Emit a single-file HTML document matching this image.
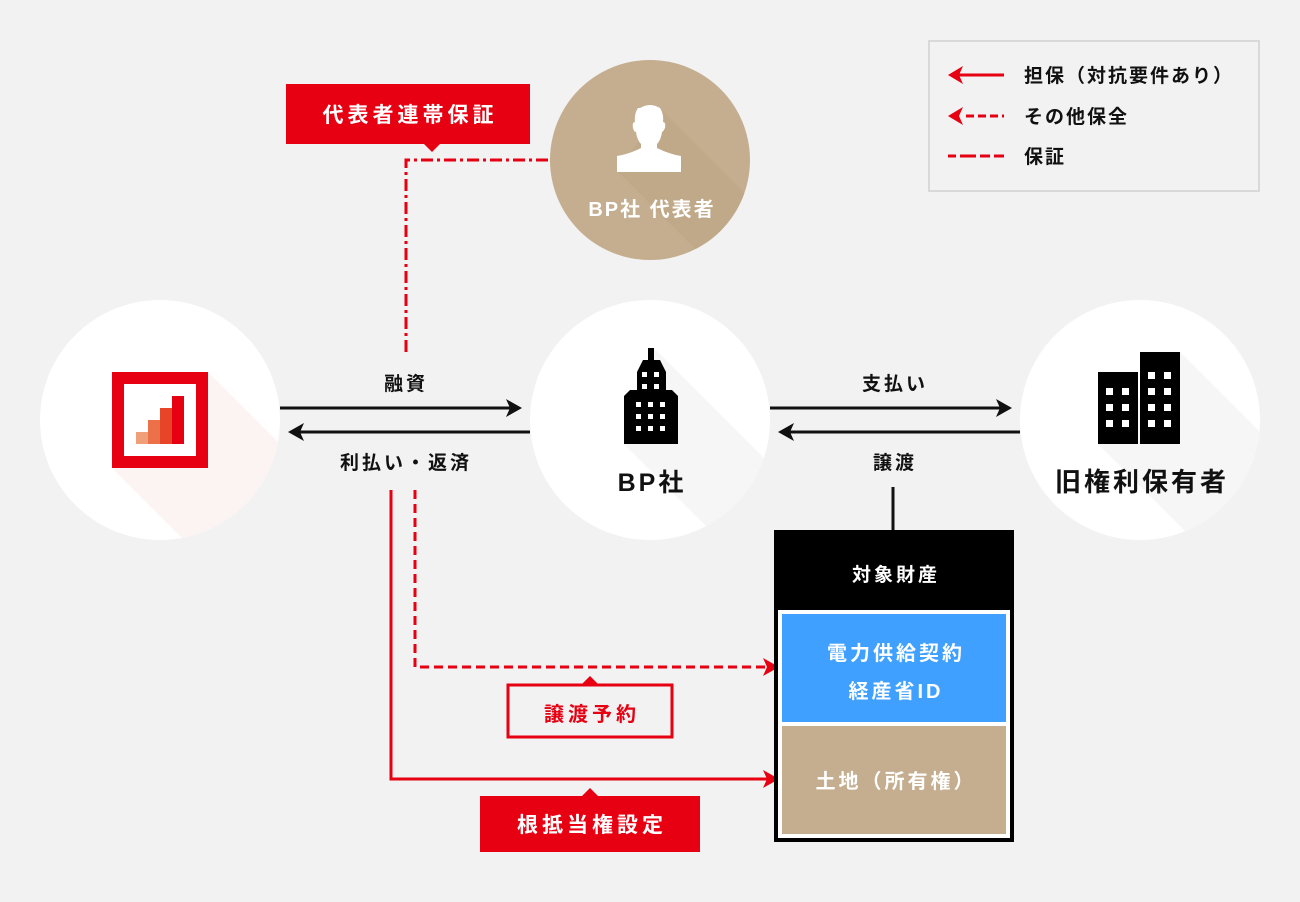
<!DOCTYPE html>
<html><head><meta charset="utf-8"><style>
html,body{margin:0;padding:0;background:#f2f2f2;}
svg{display:block;font-family:"Liberation Sans","Noto Sans CJK JP",sans-serif;font-weight:bold;}
</style></head><body>
<svg width="1300" height="902" viewBox="0 0 1300 902" xmlns="http://www.w3.org/2000/svg">
<defs>
<clipPath id="c1"><circle cx="160" cy="420" r="120"/></clipPath>
<clipPath id="c2"><circle cx="650" cy="420" r="120"/></clipPath>
<clipPath id="c3"><circle cx="1140" cy="420" r="120"/></clipPath>
<clipPath id="c4"><circle cx="650" cy="160" r="100"/></clipPath>
</defs>
<rect width="1300" height="902" fill="#f2f2f2"/>

<!-- legend -->
<rect x="929" y="41" width="330" height="150" fill="#f2f2f2" stroke="#d9d9d9" stroke-width="2"/>
<line x1="958" y1="75" x2="1004" y2="75" stroke="#e60012" stroke-width="3"/>
<path d="M948,75 L963,66 L959,75 L963,84 Z" fill="#e60012"/>
<line x1="966" y1="116" x2="1004" y2="116" stroke="#e60012" stroke-width="3" stroke-dasharray="8,4"/>
<path d="M948,116 L963,107 L959,116 L963,125 Z" fill="#e60012"/>
<path d="M948,156 H956 M960,156 H976 M980,156 H990 M994,156 H1004" stroke="#e60012" stroke-width="3"/>
<g font-size="19" fill="#111" letter-spacing="2">
<text x="1024" y="82">担保（対抗要件あり）</text>
<text x="1024" y="123">その他保全</text>
<text x="1024" y="163">保証</text>
</g>

<!-- circles -->
<circle cx="160" cy="420" r="120" fill="#fff"/>
<polygon clip-path="url(#c1)" points="208,372 408,572 312,668 112,468" fill="#fcf3f3"/>
<rect x="112" y="372" width="96" height="96" fill="#e60012"/>
<rect x="124" y="384" width="72" height="72" fill="#fff"/>
<rect x="136" y="432" width="12" height="12" fill="#f0a078"/>
<rect x="148" y="420" width="12" height="24" fill="#ec7048"/>
<rect x="160" y="408" width="12" height="36" fill="#e84428"/>
<rect x="172" y="396" width="12" height="48" fill="#e60012"/>

<circle cx="650" cy="420" r="120" fill="#fff"/>
<polygon clip-path="url(#c2)" points="654,348 854,548 824,644 624,444" fill="#f6f6f6"/>
<path d="M648,348 H654 V360 H660 L666,372 V390 H672 L678,396 V444 H624 V396 L630,390 H637 V372 L643,360 H648 Z" fill="#000"/>
<g fill="#fff">
<rect x="642" y="372" width="5" height="5"/><rect x="654" y="372" width="5" height="5"/>
<rect x="642" y="384" width="5" height="5"/><rect x="654" y="384" width="5" height="5"/>
<rect x="636" y="402" width="5" height="5"/><rect x="648" y="402" width="5" height="5"/><rect x="660" y="402" width="5" height="5"/>
<rect x="636" y="414" width="5" height="5"/><rect x="648" y="414" width="5" height="5"/><rect x="660" y="414" width="5" height="5"/>
<rect x="636" y="426" width="5" height="5"/><rect x="648" y="426" width="5" height="5"/><rect x="660" y="426" width="5" height="5"/>
</g>
<text x="652" y="491" font-size="25" text-anchor="middle" fill="#111" letter-spacing="3">BP社</text>

<circle cx="1140" cy="420" r="120" fill="#fff"/>
<polygon clip-path="url(#c3)" points="1180,352 1380,552 1298,644 1098,444" fill="#f6f6f6"/>
<rect x="1098" y="372" width="40" height="72" fill="#000"/>
<rect x="1140" y="352" width="40" height="92" fill="#000"/>
<g fill="#fff">
<rect x="1106" y="388" width="7" height="7"/><rect x="1122" y="388" width="7" height="7"/>
<rect x="1106" y="404" width="7" height="7"/><rect x="1122" y="404" width="7" height="7"/>
<rect x="1106" y="420" width="7" height="7"/><rect x="1122" y="420" width="7" height="7"/>
<rect x="1148" y="372" width="7" height="7"/><rect x="1164" y="372" width="7" height="7"/>
<rect x="1148" y="388" width="7" height="7"/><rect x="1164" y="388" width="7" height="7"/>
<rect x="1148" y="404" width="7" height="7"/><rect x="1164" y="404" width="7" height="7"/>
<rect x="1148" y="420" width="7" height="7"/><rect x="1164" y="420" width="7" height="7"/>
</g>
<text x="1142" y="491" font-size="26" text-anchor="middle" fill="#111" letter-spacing="3">旧権利保有者</text>

<circle cx="650" cy="160" r="100" fill="#c4ae8f"/>
<polygon clip-path="url(#c4)" points="660,108 860,308 818,372 618,172" fill="#bfa988"/>
<path d="M640,108 q10,-6 20,0 q4,6 3,14 q3,0 2,6 q-2,4 -3,4 q-1,8 -5,12 v4 q12,6 24,8 v16 h-64 v-16 q12,-2 24,-8 v-4 q-4,-4 -5,-12 q-2,0 -3,-4 q-1,-6 2,-6 q-1,-8 3,-14 z" fill="#fff"/>
<text x="652" y="216" font-size="20" text-anchor="middle" fill="#fff" letter-spacing="2">BP社 代表者</text>

<!-- labels top -->
<rect x="286" y="84" width="244" height="60" fill="#e60012"/>
<path d="M424,144 L432,152 L440,144 Z" fill="#e60012"/>
<text x="410" y="122" font-size="21" text-anchor="middle" fill="#fff" letter-spacing="4">代表者連帯保証</text>

<!-- dash-dot line -->
<path d="M406,352 V160 H550" fill="none" stroke="#e60012" stroke-width="3" stroke-dasharray="12,4,3,4"/>

<!-- black arrows -->
<line x1="280" y1="408" x2="512" y2="408" stroke="#111" stroke-width="3"/>
<path d="M522,408 L506,399 L510,408 L506,417 Z" fill="#111"/>
<line x1="296" y1="432" x2="530" y2="432" stroke="#111" stroke-width="3"/>
<path d="M288,432 L304,423 L300,432 L304,441 Z" fill="#111"/>
<g font-size="19" fill="#111" text-anchor="middle" letter-spacing="3">
<text x="406" y="390">融資</text>
<text x="406" y="469">利払い・返済</text>
<text x="895" y="390">支払い</text>
<text x="895" y="469">譲渡</text>
</g>

<line x1="770" y1="408" x2="1002" y2="408" stroke="#111" stroke-width="3"/>
<path d="M1012,408 L996,399 L1000,408 L996,417 Z" fill="#111"/>
<line x1="786" y1="432" x2="1020" y2="432" stroke="#111" stroke-width="3"/>
<path d="M778,432 L794,423 L790,432 L794,441 Z" fill="#111"/>
<line x1="893" y1="487" x2="893" y2="532" stroke="#111" stroke-width="3"/>

<!-- red connectors -->
<path d="M415,490 V667 H768" fill="none" stroke="#e60012" stroke-width="3" stroke-dasharray="9,5"/>
<path d="M779,667 L763,658 L767,667 L763,676 Z" fill="#e60012"/>
<path d="M391,490 V779 H768" fill="none" stroke="#e60012" stroke-width="3"/>
<path d="M779,779 L763,770 L767,779 L763,788 Z" fill="#e60012"/>

<rect x="508" y="685" width="164" height="52" fill="#f2f2f2" stroke="#e60012" stroke-width="3"/>
<path d="M582,684 L590,676 L598,684 Z" fill="#e60012"/>
<text x="592" y="721" font-size="20" text-anchor="middle" fill="#e60012" letter-spacing="4">譲渡予約</text>

<rect x="480" y="796" width="220" height="56" fill="#e60012"/>
<path d="M582,796 L590,788 L598,796 Z" fill="#e60012"/>
<text x="592" y="832" font-size="21" text-anchor="middle" fill="#fff" letter-spacing="4">根抵当権設定</text>

<!-- target box -->
<rect x="774" y="530" width="240" height="312" fill="#000"/>
<rect x="778" y="610" width="232" height="228" fill="#fff"/>
<rect x="782" y="614" width="224" height="108" fill="#40a0ff"/>
<rect x="782" y="726" width="224" height="108" fill="#c4ae8f"/>
<g font-size="20" fill="#fff" text-anchor="middle" letter-spacing="3">
<text x="896" y="581" font-size="19">対象財産</text>
<text x="896" y="660">電力供給契約</text>
<text x="896" y="698">経産省ID</text>
<text x="896" y="788">土地（所有権）</text>
</g>
</svg>
</body></html>
